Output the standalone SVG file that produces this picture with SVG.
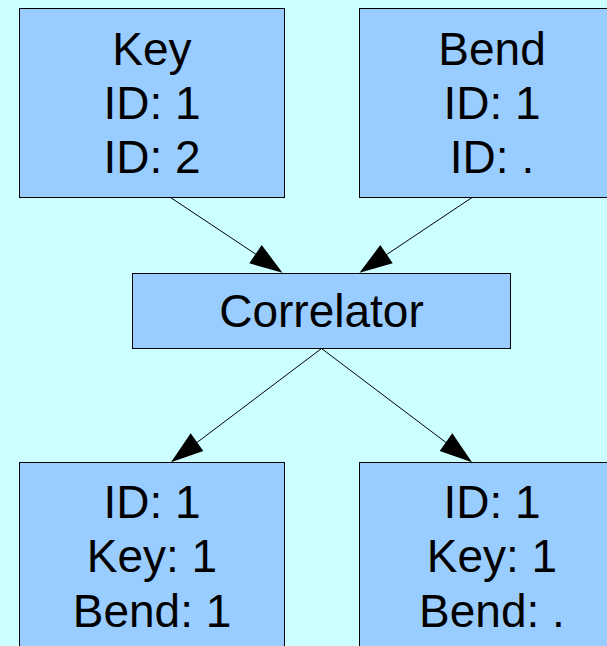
<svg xmlns="http://www.w3.org/2000/svg" width="607" height="646" viewBox="0 0 607 646">
<defs>
<style>
.box{fill:#99ccff;stroke:#000;stroke-width:1}
.t{font-family:"Liberation Sans",Arial,sans-serif;font-size:46px;fill:#000;text-anchor:middle}
.c{stroke:#000;stroke-width:1;fill:none}
.h{fill:#000;stroke:none}
</style>
</defs>
<rect width="607" height="646" fill="#ccffff"/>
<g id="connectors">
<line class="c" x1="170.5" y1="197.5" x2="260" y2="257"/>
<polygon class="h" points="282.5,272.7 261.7,245 249.3,263.3"/>
<line class="c" x1="472" y1="197.5" x2="383" y2="257"/>
<polygon class="h" points="359.5,272.7 380.3,245 392.7,263.3"/>
<line class="c" x1="321.5" y1="348.5" x2="195" y2="444"/>
<polygon class="h" points="171,462.3 190.7,433.3 203.3,451"/>
<line class="c" x1="321.5" y1="348.5" x2="448" y2="444"/>
<polygon class="h" points="472,462.3 452.3,433.3 439.7,451"/>
</g>
<g id="key">
<rect class="box" x="19.5" y="8.5" width="265" height="189"/>
<text class="t" x="152" y="65">Key</text>
<text class="t" x="152" y="119">ID: 1</text>
<text class="t" x="152" y="173">ID: 2</text>
</g>
<g id="bend">
<rect class="box" x="359.5" y="8.5" width="265" height="189"/>
<text class="t" x="492" y="65">Bend</text>
<text class="t" x="492" y="119">ID: 1</text>
<text class="t" x="492" y="173">ID: .</text>
</g>
<g id="correlator">
<rect class="box" x="132.5" y="273.5" width="378" height="75"/>
<text class="t" x="321.5" y="327">Correlator</text>
</g>
<g id="out1">
<rect class="box" x="19.5" y="462.5" width="265" height="200"/>
<text class="t" x="152" y="518">ID: 1</text>
<text class="t" x="152" y="572">Key: 1</text>
<text class="t" x="152" y="627">Bend: 1</text>
</g>
<g id="out2">
<rect class="box" x="359.5" y="462.5" width="265" height="200"/>
<text class="t" x="492" y="518">ID: 1</text>
<text class="t" x="492" y="572">Key: 1</text>
<text class="t" x="492" y="627">Bend: .</text>
</g>
</svg>
